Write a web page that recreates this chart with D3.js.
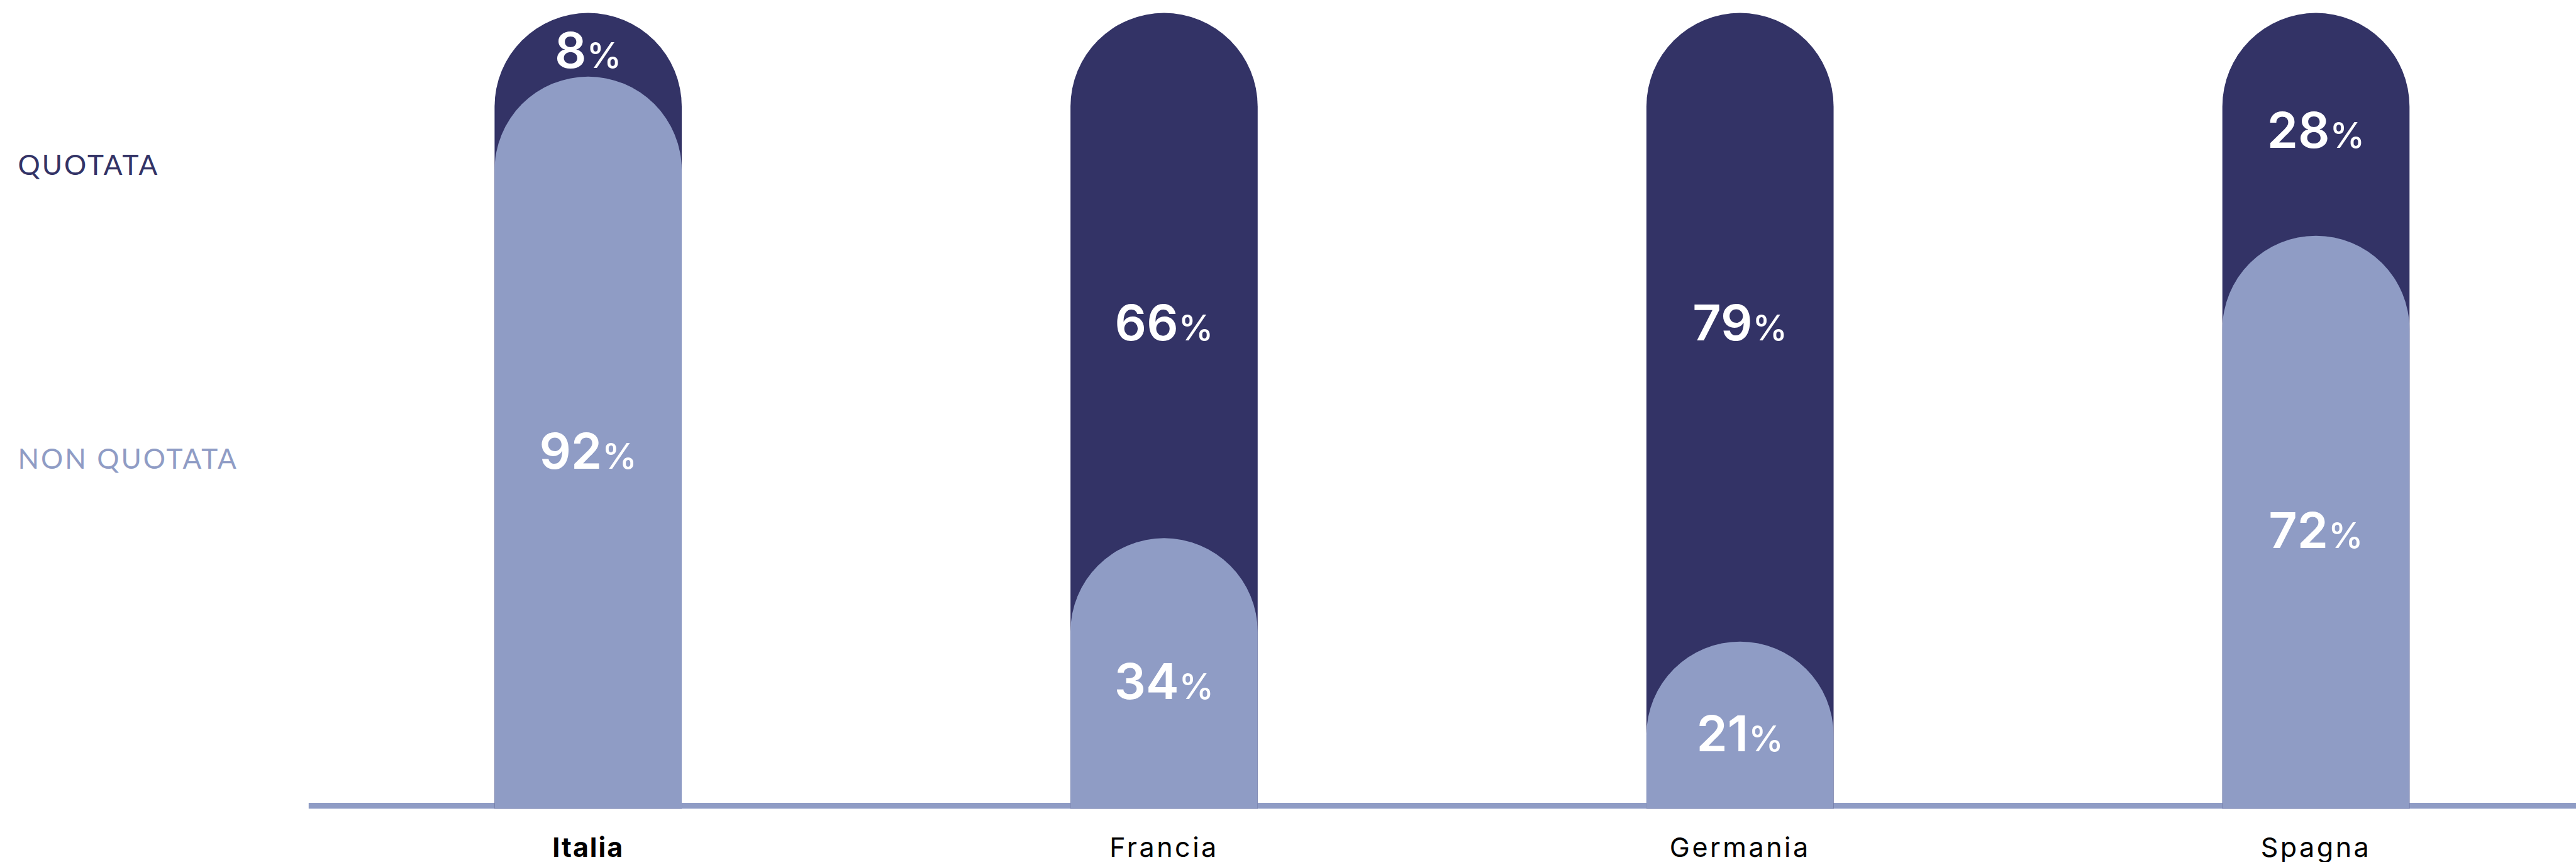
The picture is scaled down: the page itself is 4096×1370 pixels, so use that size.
<!DOCTYPE html>
<html>
<head>
<meta charset="utf-8">
<script src="https://cdn.jsdelivr.net/npm/d3@7"></script>
<style>
  html, body { margin: 0; padding: 0; background: #ffffff; }
  svg { display: block; }
</style>
</head>
<body>
<svg id="chart" width="4096" height="1370"></svg>
<script>
// Quota di imprese quotate / non quotate per paese (valori in %)
const countries = ["Italia", "Francia", "Germania", "Spagna"];
const quotata = [8, 66, 79, 28];
const nonQuotata = [92, 34, 21, 72];
const seriesNames = ["QUOTATA", "NON QUOTATA"];
const highlighted = "Italia";

const DARK = "#333366";
const LIGHT = "#8f9cc5";

const W = 4096, H = 1370;
const svg = d3.select("#chart");

const x = d3.scaleBand()
  .domain(countries)
  .range([786.4, 3831.3])
  .paddingInner(0.675)
  .paddingOuter(0);

const y = d3.scaleLinear()
  .domain([0, 100])
  .range([1285.3, 20.6]);

// bar with a semicircular top, from value down to the baseline
function capsule(x0, w, v) {
  const r = w / 2;
  const top = y(v);
  const bottom = y(0);
  return `M${x0},${bottom}L${x0},${top + r}` +
         `A${r},${r} 0 0 1 ${x0 + w},${top + r}` +
         `L${x0 + w},${bottom}Z`;
}

const rows = countries.map((c, i) => ({ c, q: quotata[i], n: nonQuotata[i] }));

// baseline axis
svg.append("line")
  .attr("x1", 490.8).attr("x2", W)
  .attr("y1", y(0) - 4.7).attr("y2", y(0) - 4.7)
  .attr("stroke", LIGHT).attr("stroke-width", 9.4);

const g = svg.append("g");

// full-height bar (quotata on top)
g.selectAll("path.total").data(rows).join("path")
  .attr("class", "total")
  .attr("d", d => capsule(x(d.c), x.bandwidth(), 100))
  .attr("fill", DARK);

// non quotata portion in front
g.selectAll("path.nq").data(rows).join("path")
  .attr("class", "nq")
  .attr("d", d => capsule(x(d.c), x.bandwidth(), d.n))
  .attr("fill", LIGHT);

// value labels
const numSize = 79, pctSize = 56, digitHalf = 29, nudge = 8;
// large quotata shares (over half) sit on one shared line: the middle of the tallest one
const maxQ = d3.max(quotata);
const sharedDarkMid = (y(100) + y(100 - maxQ)) / 2 - nudge;

function label(cx, cy, v) {
  const t = svg.append("text")
    .attr("x", cx).attr("y", cy + digitHalf)
    .attr("text-anchor", "middle")
    .attr("fill", "#ffffff")
    .attr("font-family", "Inter, 'Open Sans', sans-serif")
    .attr("font-weight", 600);
  t.append("tspan").attr("font-size", numSize).text(v);
  t.append("tspan").attr("font-size", pctSize).attr("font-weight", 500).text("%");
}

rows.forEach(d => {
  const cx = x(d.c) + x.bandwidth() / 2;
  const darkMid = d.q > 50 ? sharedDarkMid : (y(100) + y(d.n)) / 2 + nudge;
  label(cx, darkMid, d.q);
  const lightMid = (y(d.n) + y(0)) / 2 + nudge + 4;
  label(cx, lightMid, d.n);
});

// country labels
svg.selectAll("text.country").data(rows).join("text")
  .attr("class", "country")
  .attr("x", d => x(d.c) + x.bandwidth() / 2)
  .attr("y", 1361.5)
  .attr("text-anchor", "middle")
  .attr("font-family", "Inter, 'Open Sans', sans-serif")
  .attr("font-size", 43)
  .attr("letter-spacing", d => d.c === highlighted ? 2 : 3.5)
  .attr("font-weight", d => d.c === highlighted ? 700 : 400)
  .attr("fill", "#000000")
  .text(d => d.c);

// series legend on the left
const legendY = [278, 744.8];
const legendColors = [DARK, LIGHT];
svg.selectAll("text.legend").data(seriesNames).join("text")
  .attr("class", "legend")
  .attr("x", 28.5)
  .attr("y", (d, i) => legendY[i])
  .attr("font-family", "Lato, 'Noto Sans', sans-serif")
  .attr("font-size", 44)
  .attr("letter-spacing", 3)
  .attr("fill", (d, i) => legendColors[i])
  .text(d => d);
</script>
</body>
</html>
